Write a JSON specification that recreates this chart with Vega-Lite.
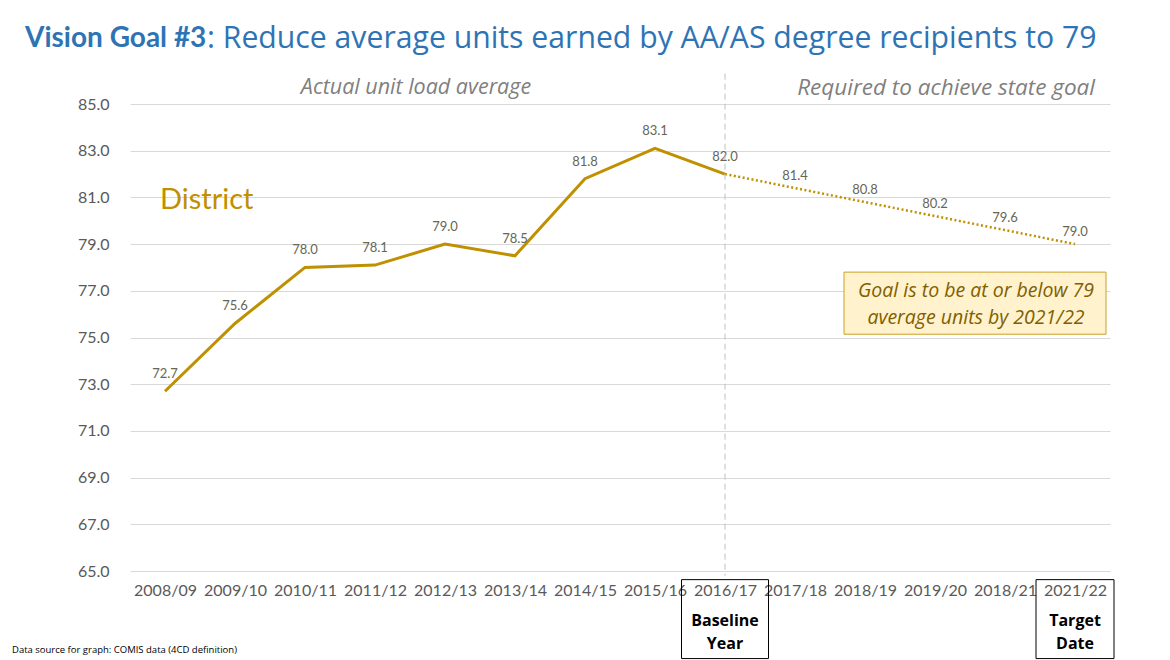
{
  "$schema": "https://vega.github.io/schema/vega-lite/v6.json",
  "autosize": "none",
  "width": 980,
  "height": 467,
  "padding": {"left": 130, "top": 104, "right": 60, "bottom": 89},
  "background": "white",
  "config": {
    "font": "Lato",
    "view": {"stroke": null},
    "axis": {"labelFont": "Lato", "labelColor": "#595959", "domain": false, "ticks": false, "title": null}
  },
  "datasets": {
    "actual": [
      {"year": "2008/09", "value": 72.7},
      {"year": "2009/10", "value": 75.6},
      {"year": "2010/11", "value": 78.0},
      {"year": "2011/12", "value": 78.1},
      {"year": "2012/13", "value": 79.0},
      {"year": "2013/14", "value": 78.5},
      {"year": "2014/15", "value": 81.8},
      {"year": "2015/16", "value": 83.1},
      {"year": "2016/17", "value": 82.0}
    ],
    "goal": [
      {"year": "2016/17", "value": 82.0},
      {"year": "2017/18", "value": 81.4},
      {"year": "2018/19", "value": 80.8},
      {"year": "2019/20", "value": 80.2},
      {"year": "2018/21", "value": 79.6},
      {"year": "2021/22", "value": 79.0}
    ],
    "one": [{"k": 1}]
  },
  "layer": [
    {
      "data": {"name": "actual"},
      "mark": {"type": "line", "color": "#BF9000", "strokeWidth": 3},
      "encoding": {
        "x": {
          "field": "year", "type": "nominal",
          "scale": {"type": "point", "padding": 0.5, "domain": ["2008/09","2009/10","2010/11","2011/12","2012/13","2013/14","2014/15","2015/16","2016/17","2017/18","2018/19","2019/20","2018/21","2021/22"]},
          "axis": {"labelAngle": 0, "labelFontSize": 16, "labelPadding": 11, "grid": false}
        },
        "y": {
          "field": "value", "type": "quantitative",
          "scale": {"domain": [65, 85], "nice": false, "zero": false},
          "axis": {"values": [65,67,69,71,73,75,77,79,81,83,85], "format": ".1f", "labelFontSize": 16, "labelPadding": 21, "gridColor": "#d9d9d9", "gridWidth": 1}
        }
      }
    },
    {
      "data": {"name": "goal"},
      "mark": {"type": "line", "color": "#BF9000", "strokeWidth": 2.5, "strokeDash": [2, 2.5]},
      "encoding": {"x": {"field": "year", "type": "nominal"}, "y": {"field": "value", "type": "quantitative"}}
    },
    {
      "data": {"name": "actual"},
      "mark": {"type": "text", "fontSize": 13, "color": "#666655", "dy": -17, "baseline": "middle"},
      "encoding": {"x": {"field": "year", "type": "nominal"}, "y": {"field": "value", "type": "quantitative"}, "text": {"field": "value", "type": "quantitative", "format": ".1f"}}
    },
    {
      "data": {"name": "goal"},
      "transform": [{"filter": "datum.year != '2016/17'"}],
      "mark": {"type": "text", "fontSize": 13, "color": "#666655", "dy": -12, "baseline": "middle"},
      "encoding": {"x": {"field": "year", "type": "nominal"}, "y": {"field": "value", "type": "quantitative"}, "text": {"field": "value", "type": "quantitative", "format": ".1f"}}
    },
    {
      "data": {"name": "one"},
      "mark": {"type": "rule", "color": "#bfbfbf", "strokeWidth": 1, "strokeDash": [6, 4]},
      "encoding": {"x": {"datum": "2016/17"}, "y": {"datum": 86.3}, "y2": {"datum": 64.8}}
    },
    {
      "data": {"name": "one"},
      "mark": {"type": "text", "font": "Open Sans", "fontSize": 21.5, "fontStyle": "italic", "color": "#7f7f7f", "align": "center", "baseline": "middle", "dx": 41},
      "encoding": {"x": {"datum": "2011/12"}, "y": {"datum": 85.7}, "text": {"value": "Actual unit load average"}}
    },
    {
      "data": {"name": "one"},
      "mark": {"type": "text", "font": "Open Sans", "fontSize": 22.5, "fontStyle": "italic", "color": "#7f7f7f", "align": "right", "baseline": "middle", "dx": 20},
      "encoding": {"x": {"datum": "2021/22"}, "y": {"datum": 85.7}, "text": {"value": "Required to achieve state goal"}}
    },
    {
      "data": {"name": "one"},
      "mark": {"type": "text", "fontSize": 29, "color": "#BF9000", "align": "left", "baseline": "middle", "dx": -5},
      "encoding": {"x": {"datum": "2008/09"}, "y": {"datum": 80.9}, "text": {"value": "District"}}
    },
    {
      "data": {"name": "one"},
      "mark": {"type": "rect", "fill": "#FFF2CC", "stroke": "#C9A227", "strokeWidth": 1, "width": 262, "xOffset": 40},
      "encoding": {"x": {"datum": "2019/20"}, "y": {"datum": 77.8}, "y2": {"datum": 75.14}}
    },
    {
      "data": {"name": "one"},
      "mark": {"type": "text", "font": "Open Sans", "fontSize": 19.5, "fontStyle": "italic", "color": "#7F6000", "align": "center", "baseline": "middle", "dx": 41, "lineBreak": "\n", "lineHeight": 27},
      "encoding": {"x": {"datum": "2019/20"}, "y": {"datum": 76.98}, "text": {"value": "Goal is to be at or below 79\naverage units by 2021/22"}}
    },
    {
      "data": {"name": "one"},
      "mark": {"type": "rect", "fillOpacity": 0, "stroke": "#000000", "strokeWidth": 1, "width": 87},
      "encoding": {"x": {"datum": "2016/17"}, "y": {"datum": 64.63}, "y2": {"datum": 61.25}}
    },
    {
      "data": {"name": "one"},
      "mark": {"type": "rect", "fillOpacity": 0, "stroke": "#000000", "strokeWidth": 1, "width": 78},
      "encoding": {"x": {"datum": "2021/22"}, "y": {"datum": 64.63}, "y2": {"datum": 61.25}}
    },
    {
      "data": {"name": "one"},
      "mark": {"type": "text", "font": "Open Sans", "fontSize": 16, "fontWeight": "bold", "color": "#000000", "align": "center", "baseline": "middle", "lineBreak": "\n", "lineHeight": 23},
      "encoding": {"x": {"datum": "2016/17"}, "y": {"datum": 62.88}, "text": {"value": "Baseline\nYear"}}
    },
    {
      "data": {"name": "one"},
      "mark": {"type": "text", "font": "Open Sans", "fontSize": 16, "fontWeight": "bold", "color": "#000000", "align": "center", "baseline": "middle", "lineBreak": "\n", "lineHeight": 23},
      "encoding": {"x": {"datum": "2021/22"}, "y": {"datum": 62.88}, "text": {"value": "Target\nDate"}}
    },
    {
      "data": {"name": "one"},
      "mark": {"type": "text", "fontSize": 28, "fontWeight": "bold", "color": "#2E74B5", "align": "left", "baseline": "middle", "dx": -140},
      "encoding": {"x": {"datum": "2008/09"}, "y": {"datum": 87.8}, "text": {"value": "Vision Goal #3"}}
    },
    {
      "data": {"name": "one"},
      "mark": {"type": "text", "font": "Open Sans", "fontSize": 30.2, "color": "#2E74B5", "align": "left", "baseline": "middle", "dx": -28},
      "encoding": {"x": {"datum": "2009/10"}, "y": {"datum": 87.8}, "text": {"value": ": Reduce average units earned by AA/AS degree recipients to 79"}}
    },
    {
      "data": {"name": "one"},
      "mark": {"type": "text", "font": "Open Sans", "fontSize": 9.5, "color": "#000000", "align": "left", "baseline": "middle", "dx": -153},
      "encoding": {"x": {"datum": "2008/09"}, "y": {"datum": 61.6}, "text": {"value": "Data source for graph: COMIS data (4CD definition)"}}
    }
  ]
}
